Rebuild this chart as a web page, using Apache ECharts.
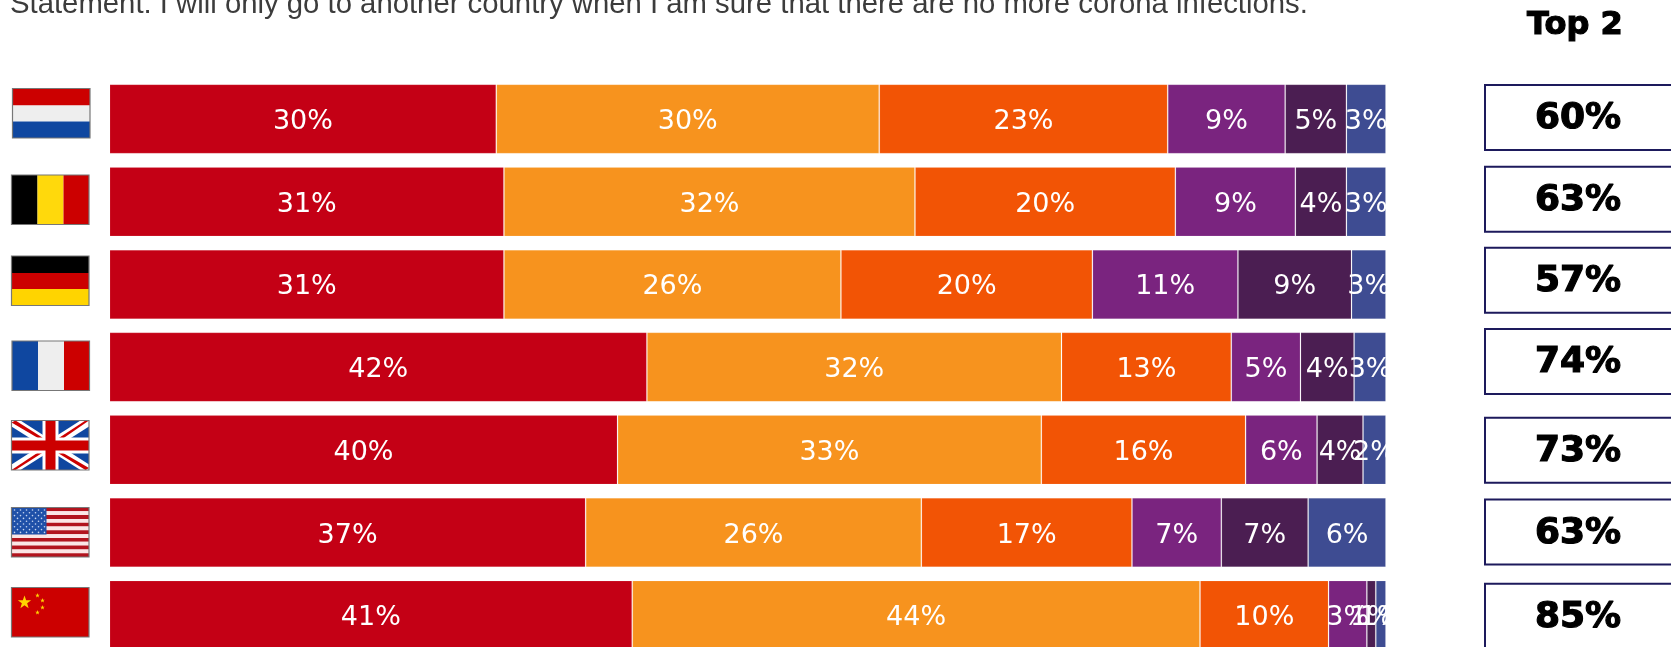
<!DOCTYPE html>
<html><head><meta charset="utf-8">
<style>html,body{margin:0;padding:0;background:#fff;overflow:hidden;width:1671px;height:647px}#c{width:1671px;height:700px}</style>
<script src="https://cdn.jsdelivr.net/npm/echarts@6/dist/echarts.min.js"></script>
</head><body><div id="c"></div>
<script>
const countries = ['Netherlands','Belgium','Germany','France','United Kingdom','United States','China'];
const level1 = [30.3,30.9,30.9,42.1,39.8,37.3,40.95];
const level2 = [30.0,32.2,26.4,32.48,33.2,26.3,44.48];
const level3 = [22.6,20.4,19.7,13.3,16.0,16.5,10.07];
const level4 = [9.2,9.4,11.4,5.42,5.6,7.0,3.0];
const level5 = [4.8,4.0,8.9,4.2,3.6,6.8,0.7];
const level6 = [3.1,3.1,2.7,2.5,1.8,6.1,0.8];
const top2 = [60,63,57,74,73,63,85];
const top2Nudge = [-1.5,-2.5,-4.1,-5.5,0.5,-0.5,1];
const colors = ['#C40015','#F7931E','#F25405','#7A247F','#4B1E52','#3E4C92'];
const levels = [level1,level2,level3,level4,level5,level6];
const statement = 'Statement: I will only go to another country when I am sure that there are no more corona infections.';
const top2Title = 'Top 2';

const chart = echarts.init(document.getElementById('c'),null,{renderer:'canvas'});

function rect(x,y,w,h,fill){return {type:'rect',shape:{x,y,width:w,height:h},style:{fill}};}
function poly(points,fill,ox,oy){return {type:'polygon',shape:{points:points.map(p=>[p[0]+ox,p[1]+oy])},style:{fill}};}
function frame(x,y){return {type:'rect',shape:{x,y,width:77.5,height:49.5},style:{fill:'none',stroke:'#777',lineWidth:1.2}};}
function star(cx,cy,r){const p=[];for(let i=0;i<10;i++){const a=-Math.PI/2+i*Math.PI/5,q=i%2?r*0.4:r;p.push([cx+q*Math.cos(a),cy+q*Math.sin(a)]);}return p;}
function flags(){
  const g=[];
  let x=12.5,y=88.5; // NL
  g.push(rect(x,y,77.5,17,'#CC0000'),rect(x,y+17,77.5,16,'#EEEEEE'),rect(x,y+33,77.5,16.5,'#0F47A0'),frame(x,y));
  x=11.5;y=175; // BE
  g.push(rect(x,y,26,49.5,'#000'),rect(x+26,y,26,49.5,'#FFD90C'),rect(x+52,y,25.5,49.5,'#CC0000'),frame(x,y));
  x=11.5;y=256; // DE
  g.push(rect(x,y,77.5,17,'#000'),rect(x,y+17,77.5,16,'#CC0000'),rect(x,y+33,77.5,16.5,'#FFD400'),frame(x,y));
  x=12;y=341; // FR
  g.push(rect(x,y,26,49.5,'#0F47A0'),rect(x+26,y,26,49.5,'#EEEEEE'),rect(x+52,y,25.5,49.5,'#CC0000'),frame(x,y));
  x=11.5;y=420.5; // UK
  g.push(rect(x,y,77.5,49.5,'#0F47A0'));
  g.push(poly([[0,0],[9,0],[77.5,44],[77.5,49.5],[69,49.5],[0,6]],'#fff',x,y));
  g.push(poly([[77.5,0],[69,0],[0,44],[0,49.5],[9,49.5],[77.5,6]],'#fff',x,y));
  g.push(poly([[0,2],[4,0],[34,19],[29,19]],'#CC0000',x,y));
  g.push(poly([[77.5,0],[74,0],[45,19],[50,19]],'#CC0000',x,y));
  g.push(poly([[0,49.5],[4,49.5],[33,31],[28,31]],'#CC0000',x,y));
  g.push(poly([[77.5,47.5],[74,49.5],[44,31],[49,31]],'#CC0000',x,y));
  g.push(rect(x+31,y,16,49.5,'#fff'),rect(x,y+17,77.5,16,'#fff'));
  g.push(rect(x+34,y,10,49.5,'#CC0000'),rect(x,y+20,77.5,10,'#CC0000'),frame(x,y));
  x=11.5;y=507.5; // US
  for(let i=0;i<13;i++) g.push(rect(x,y+i*49.5/13,77.5,49.5/13,i%2?'#FBE6E6':'#B2141E'));
  g.push(rect(x,y,35,27,'#1F50A8'));
  for(let r=0;r<9;r++) for(let c=0;c<(r%2?5:6);c++)
    g.push({type:'circle',shape:{cx:x+3+c*6+(r%2?3:0),cy:y+2.5+r*2.8,r:0.8},style:{fill:'#C9D6F0'}});
  g.push(frame(x,y));
  x=11.5;y=587.5; // CN
  g.push(rect(x,y,77.5,49.5,'#CC0000'));
  g.push({type:'polygon',shape:{points:star(x+13,y+15,7)},style:{fill:'#FFD400'}});
  [[26,8],[31,13],[31,20],[26,25]].forEach(s=>g.push({type:'polygon',shape:{points:star(x+s[0],y+s[1],2.4)},style:{fill:'#FFD400'}}));
  g.push(frame(x,y));
  return g;
}

const barSeries = levels.map((vals,i)=>({
  type:'bar',stack:'t',name:'L'+(i+1),data:vals,barWidth:69.5,
  xAxisIndex:0,yAxisIndex:0,
  itemStyle:{color:colors[i],borderColor:'rgba(255,255,255,0.12)',borderWidth:1},
  label:{show:true,position:'inside',offset:[0,3],color:'#fff',fontFamily:'DejaVu Sans',fontSize:27,
    formatter:p=>Math.round(p.value)+'%'},
  silent:true
}));

const boxSeries = {
  type:'custom',xAxisIndex:1,yAxisIndex:1,silent:true,
  data:top2.map((v,i)=>[0,i,v]),
  encode:{x:0,y:1},
  clip:false,
  renderItem:(params,api)=>{
    const i=api.value(1);
    const c=api.coord([0,i]);
    const cy=c[1]+top2Nudge[i];
    return {type:'group',children:[
      {type:'rect',shape:{x:c[0],y:cy-32.5,width:192,height:65},
        style:{fill:'#fff',stroke:'#1D1A5C',lineWidth:2}},
      {type:'text',x:c[0]+93,y:cy+1.5,
        style:{text:api.value(2)+'%',align:'center',verticalAlign:'middle',
          fontFamily:'DejaVu Sans',fontWeight:'bold',fontSize:36,fill:'#000',stroke:'#000',lineWidth:1.2}}
    ]};
  }
};

chart.setOption({
  animation:false,
  backgroundColor:'#fff',
  title:[
    {text:statement,left:10,top:-10,padding:0,textStyle:{fontFamily:'Liberation Sans',fontWeight:'normal',fontSize:29.3,color:'#3C3C3C'}},
    {text:top2Title,left:1527,top:10,padding:0,textStyle:{fontFamily:'DejaVu Sans',fontWeight:'bold',fontSize:32,color:'#000',textBorderColor:'#000',textBorderWidth:1.2}}
  ],
  grid:[
    {left:109.5,top:77.6,width:1276.5,height:579,containLabel:false},
    {left:1485,top:77.6,width:186,height:579,containLabel:false}
  ],
  xAxis:[
    {type:'value',gridIndex:0,min:0,max:100,show:false},
    {type:'value',gridIndex:1,min:0,max:1,show:false}
  ],
  yAxis:[
    {type:'category',gridIndex:0,inverse:true,data:countries,show:false},
    {type:'category',gridIndex:1,inverse:true,data:countries,show:false}
  ],
  series:[...barSeries,boxSeries],
  graphic:{elements:flags()}
});
</script></body></html>
